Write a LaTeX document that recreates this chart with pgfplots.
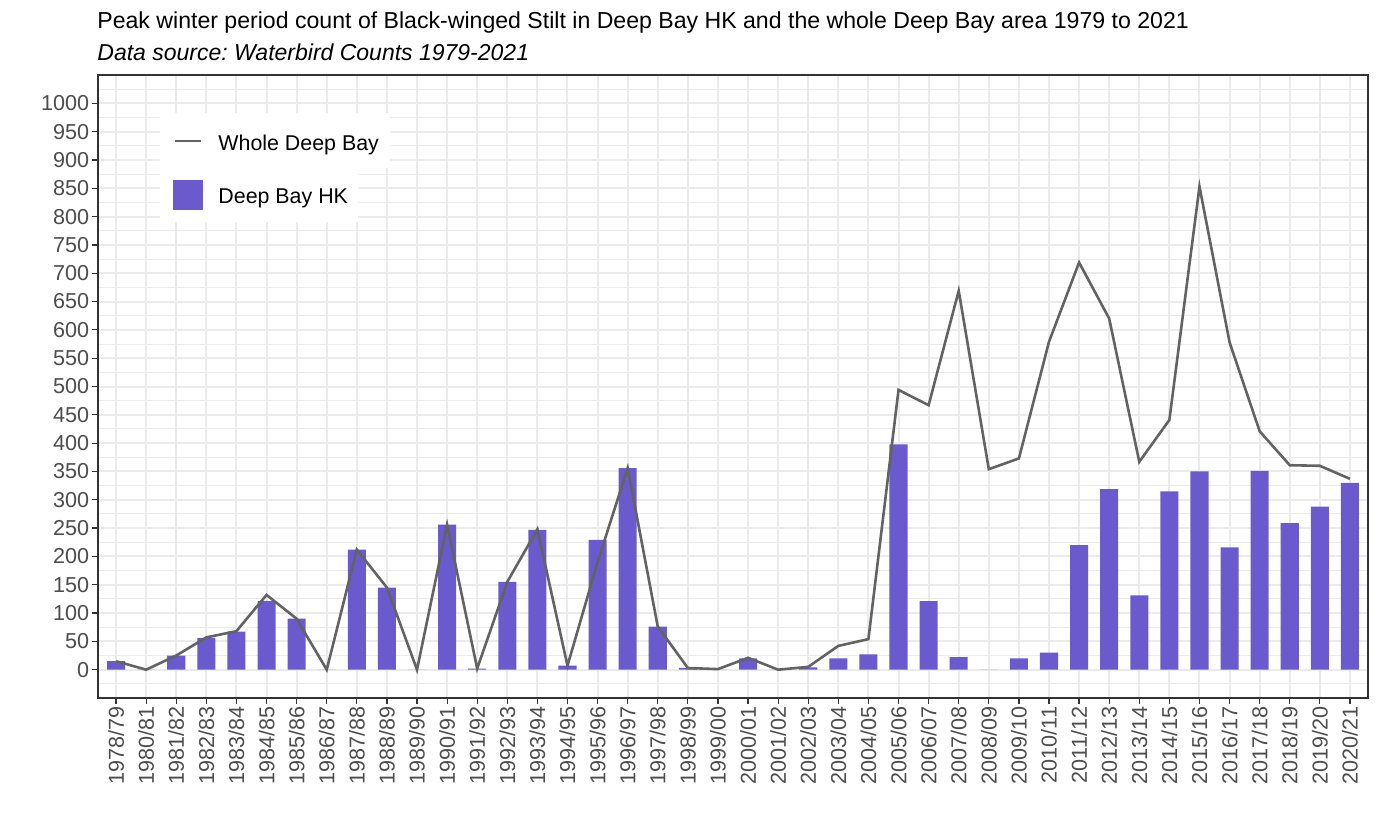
\documentclass[border=0pt]{standalone}
\usepackage{pgfplots}
\pgfplotsset{compat=1.18}
\usepackage{pgfplotstable}
\usepackage{fontspec}
\setmainfont{Liberation Sans}
\frenchspacing
\definecolor{barc}{HTML}{6A5ACD}
\definecolor{linec}{HTML}{636363}
\definecolor{gridc}{HTML}{EBEBEB}
\definecolor{tickc}{HTML}{4D4D4D}
\definecolor{framec}{HTML}{333333}

\pgfplotstableread{
x hk whole
0 15 15
1 0 0
2 25 25
3 56 57
4 67 68
5 121 132
6 90 90
7 0 0
8 212 212
9 145 145
10 0 0
11 256 256
12 2 2
13 155 155
14 247 248
15 7 7
16 229 190
17 356 356
18 76 76
19 3 3
20 0 1
21 20 21
22 0 0
23 4 5
24 20 42
25 27 54
26 398 494
27 121 467
28 22 669
29 0 354
30 20 373
31 30 579
32 220 719
33 319 620
34 131 367
35 315 441
36 350 853
37 216 578
38 351 421
39 259 361
40 288 360
41 330 337
}\datatable

\begin{document}
\begin{tikzpicture}
\useasboundingbox (0,0) rectangle (689bp,-413.5bp);
\fill[white] (0,0) rectangle (689bp,-413.5bp);
\begin{axis}[
  at={(49bp,-349bp)}, anchor=south west,
  scale only axis,
  width=635bp, height=311.5bp,
  xmin=-0.6, xmax=41.6,
  ymin=-50, ymax=1050,
  xtick={0,...,41},
  xticklabels={1978/79,1980/81,1981/82,1982/83,1983/84,1984/85,1985/86,1986/87,1987/88,1988/89,1989/90,1990/91,1991/92,1992/93,1993/94,1994/95,1995/96,1996/97,1997/98,1998/99,1999/00,2000/01,2001/02,2002/03,2003/04,2004/05,2005/06,2006/07,2007/08,2008/09,2009/10,2010/11,2011/12,2012/13,2013/14,2014/15,2015/16,2016/17,2017/18,2018/19,2019/20,2020/21},
  ytick={0,50,...,1000},
  minor ytick={-25,25,...,1025},
  xmajorgrids, ymajorgrids, yminorgrids,
  major grid style={gridc, line width=1bp},
  minor grid style={gridc, line width=0.5bp},
  tick align=outside,
  major tick length=2.75bp,
  minor tick length=0pt,
  tick style={framec, line width=0.6bp},
  axis line style={framec, line width=0.6bp},
  xtick pos=bottom, ytick pos=left,
  /pgf/number format/assume math mode=true,
  /pgf/number format/1000 sep={},
  ticklabel style={font=\fontsize{10.8bp}{12bp}\selectfont, text=tickc},
  xticklabel style={rotate=90, anchor=east, inner sep=1.5bp},
  yticklabel style={inner sep=1.5bp},
]
\addplot[ybar, bar width=0.6, bar shift=0pt, fill=barc, draw=none] table[x=x, y=hk] {\datatable};
\addplot[linec, line width=1.3bp, mark=none] table[x=x, y=whole] {\datatable};
\end{axis}
% titles
\node[anchor=base west, inner sep=0, font=\fontsize{11.55bp}{13bp}\selectfont] at (48.5bp,-14bp) {Peak winter period count of Black-winged Stilt in Deep Bay HK and the whole Deep Bay area 1979 to 2021};
\node[anchor=base west, inner sep=0, font=\fontsize{11.5bp}{13bp}\selectfont\itshape] at (48.5bp,-30bp) {Data source: Waterbird Counts 1979-2021};
% legend
\fill[white] (80bp,-56.5bp) rectangle (195bp,-84bp);
\fill[white] (80bp,-84bp) rectangle (179bp,-111bp);
\draw[linec, line width=1.3bp] (87.5bp,-70.5bp) -- (100.5bp,-70.5bp);
\fill[barc] (86.5bp,-90bp) rectangle (101.5bp,-105bp);
\node[anchor=base west, inner sep=0, font=\fontsize{10.7bp}{12bp}\selectfont] at (109bp,-75bp) {Whole Deep Bay};
\node[anchor=base west, inner sep=0, font=\fontsize{10.7bp}{12bp}\selectfont] at (109bp,-101.5bp) {Deep Bay HK};
\end{tikzpicture}
\end{document}
